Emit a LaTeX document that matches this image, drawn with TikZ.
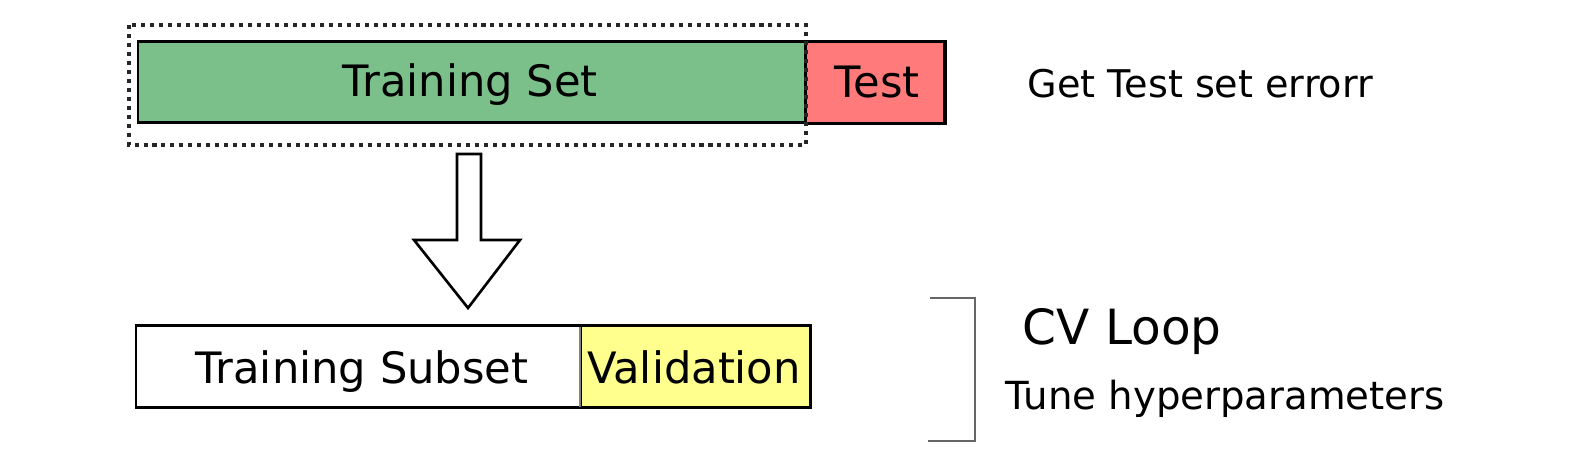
\documentclass[tikz,border=0pt]{standalone}
\usepackage{fontspec}
\setmainfont{DejaVu Sans}
\definecolor{trgreen}{HTML}{7BC08A}
\definecolor{tsred}{HTML}{FF7B7B}
\definecolor{valyel}{HTML}{FFFF8E}
\begin{document}
\begin{tikzpicture}[x=0.01cm,y=-0.01cm,
  box/.style={draw=black,line width=0.85pt},
  lbl/.style={inner sep=0pt,anchor=base,font=\fontsize{12.3pt}{14pt}\selectfont},
  side/.style={inner sep=0pt,anchor=base west},
  dotbox/.style={draw=black!85,line width=1.15pt,dash pattern=on 1.15pt off 1.4pt},
  bracket/.style={draw=black!60,line width=0.45pt},
  bigarrow/.style={draw=black,line width=0.75pt,fill=white,line join=miter}]
\useasboundingbox (0,0) rectangle (1576,474);
% top row
\draw[box,fill=trgreen] (138,42) rectangle (805,123);
\draw[box,fill=tsred] (805,42) rectangle (945,124);
\draw[black,line width=1.3pt] (945,42) -- (945,124);
\node[lbl] (train) at (470,97) {Training Set};
\node[lbl] (test) at (877,98) {Test};
\draw[dotbox] (129,25) rectangle (806,145);
\node[side,font=\fontsize{10.85pt}{13pt}\selectfont] (err) at (1027,98) {Get Test set errorr};
% arrow
\draw[bigarrow] (457,154) -- (481,154) -- (481,240) -- (520,240) -- (468,308) -- (414,240) -- (457,240) -- cycle;
% bottom row
\draw[box,fill=white] (136,326) rectangle (580,408);
\draw[box,fill=valyel] (580,326) rectangle (810,408);
\draw[black!50,line width=0.5pt] (580,327) -- (580,407);
\node[lbl] (sub) at (362,384) {Training Subset};
\node[lbl] (val) at (694,384) {Validation};
% bracket
\draw[bracket] (930,298) -- (975,298) -- (975,441) -- (928,441);
\node[side,font=\fontsize{13.8pt}{16pt}\selectfont] (cv) at (1022,345) {CV Loop};
\node[side,font=\fontsize{11pt}{13pt}\selectfont] (tune) at (1005,410) {Tune hyperparameters};
\end{tikzpicture}
\end{document}
